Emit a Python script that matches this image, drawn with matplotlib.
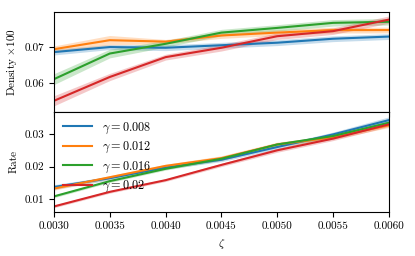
import matplotlib
matplotlib.use("Agg")
import matplotlib.pyplot as plt
from matplotlib.ticker import FormatStrFormatter

plt.rcParams['font.family'] = 'serif'
plt.rcParams['font.serif'] = ['cmr10']
plt.rcParams['mathtext.fontset'] = 'cm'
plt.rcParams['axes.formatter.use_mathtext'] = True
plt.rcParams['font.size'] = 8

# data
zeta = [0.0030, 0.0035, 0.0040, 0.0045, 0.0050, 0.0055, 0.0060]
gammas = ['0.008', '0.012', '0.016', '0.02']
colors = ['#1f77b4', '#ff7f0e', '#2ca02c', '#d62728']

density_008 = [0.0686, 0.0700, 0.0698, 0.0705, 0.0712, 0.0723, 0.0729]
density_012 = [0.0694, 0.0719, 0.0715, 0.0732, 0.0740, 0.0747, 0.0747]
density_016 = [0.0611, 0.0682, 0.0709, 0.0740, 0.0753, 0.0767, 0.0770]
density_02 = [0.0551, 0.0617, 0.0672, 0.0698, 0.0730, 0.0744, 0.0776]

# half widths of the shaded bands
dens_err_008 = [0.0008, 0.0007, 0.0008, 0.0008, 0.0008, 0.0008, 0.0008]
dens_err_012 = [0.0009, 0.0013, 0.0006, 0.0008, 0.0008, 0.0008, 0.0008]
dens_err_016 = [0.0015, 0.0012, 0.0009, 0.0009, 0.0009, 0.0009, 0.0009]
dens_err_02 = [0.0014, 0.0010, 0.0008, 0.0009, 0.0009, 0.0009, 0.0010]

rate_008 = [0.0137, 0.0164, 0.0197, 0.0221, 0.0260, 0.0299, 0.0343]
rate_012 = [0.0132, 0.0167, 0.0202, 0.0226, 0.0268, 0.0290, 0.0327]
rate_016 = [0.0108, 0.0155, 0.0193, 0.0224, 0.0268, 0.0294, 0.0335]
rate_02 = [0.0077, 0.0122, 0.0158, 0.0205, 0.0250, 0.0286, 0.0330]

rate_err_008 = [0.0007, 0.0006, 0.0005, 0.0006, 0.0006, 0.0007, 0.0010]
rate_err_012 = [0.0005, 0.0005, 0.0005, 0.0007, 0.0007, 0.0006, 0.0007]
rate_err_016 = [0.0004, 0.0004, 0.0004, 0.0005, 0.0005, 0.0005, 0.0006]
rate_err_02 = [0.0004, 0.0004, 0.0004, 0.0005, 0.0006, 0.0006, 0.0007]

density = [density_008, density_012, density_016, density_02]
dens_err = [dens_err_008, dens_err_012, dens_err_016, dens_err_02]
rate = [rate_008, rate_012, rate_016, rate_02]
rate_err = [rate_err_008, rate_err_012, rate_err_016, rate_err_02]

fig, (ax1, ax2) = plt.subplots(2, 1, sharex=True, figsize=(4.15, 2.56), dpi=100)
fig.subplots_adjust(left=0.130, right=0.937, top=0.953, bottom=0.172, hspace=0)

for i in range(4):
    c = colors[i]
    lo = [v - e for v, e in zip(density[i], dens_err[i])]
    hi = [v + e for v, e in zip(density[i], dens_err[i])]
    ax1.fill_between(zeta, lo, hi, color=c, alpha=0.25, lw=0)
    ax1.plot(zeta, density[i], color=c, lw=1.5)

    lo = [v - e for v, e in zip(rate[i], rate_err[i])]
    hi = [v + e for v, e in zip(rate[i], rate_err[i])]
    ax2.fill_between(zeta, lo, hi, color=c, alpha=0.25, lw=0)
    ax2.plot(zeta, rate[i], color=c, lw=1.5, label=r'$\gamma = %s$' % gammas[i])

ax1.set_ylim(0.052, 0.0797)
ax1.set_yticks([0.06, 0.07])
ax1.yaxis.set_major_formatter(FormatStrFormatter('%.2f'))
ax1.set_ylabel(r'Density $\times 100$')

ax2.set_ylim(0.006, 0.0368)
ax2.set_yticks([0.01, 0.02, 0.03])
ax2.yaxis.set_major_formatter(FormatStrFormatter('%.2f'))
ax2.set_ylabel('Rate')

ax2.set_xlim(0.003, 0.006)
ax2.set_xticks(zeta)
ax2.xaxis.set_major_formatter(FormatStrFormatter('%.4f'))
ax2.set_xlabel(r'$\zeta$')

ax1.tick_params(axis='x', length=0)
for ax in (ax1, ax2):
    ax.tick_params(direction='out', length=3.5, width=0.8)
    for s in ax.spines.values():
        s.set_linewidth(0.8)

ax2.legend(loc='upper left', frameon=False, handlelength=2.4, borderaxespad=0.3,
           labelspacing=0.35, fontsize=8.8)

fig.align_ylabels([ax1, ax2])
fig.savefig('out.png', dpi=100)
